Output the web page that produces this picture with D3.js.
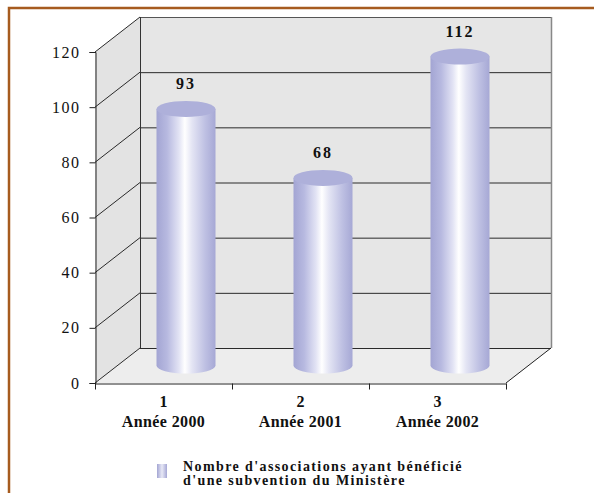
<!DOCTYPE html>
<html>
<head>
<meta charset="utf-8">
<script src="https://cdn.jsdelivr.net/npm/d3@7"></script>
<style>
  html, body { margin: 0; padding: 0; background: #fff; }
  svg { display: block; }
  text { font-family: "Liberation Serif", "DejaVu Serif", serif; fill: #111; }
</style>
</head>
<body>
<svg id="chart" width="594" height="493"></svg>
<script>
// Data
const categories = ["1", "2", "3"];
const yearLabels = ["Année 2000", "Année 2001", "Année 2002"];
const values = [93, 68, 112];
const yTicks = [0, 20, 40, 60, 80, 100, 120];
const legendLines = ["Nombre d'associations ayant bénéficié", "d'une subvention du Ministère"];

const svg = d3.select("#chart");

// Frame
svg.append("path")
  .attr("d", "M9,493 L9,8 L594,8")
  .attr("fill", "none")
  .attr("stroke", "#a65b1f")
  .attr("stroke-width", 2.5);

// Plot geometry (front plane + depth offset)
const plotLeft = 95, plotRight = 506, plotBottom = 383, plotTop = 52;
const dx = 45, dy = -35;

const x = d3.scaleBand().domain(categories).range([plotLeft, plotRight]);
const y = d3.scaleLinear().domain([0, 120]).range([plotBottom, plotTop]);

// Walls and floor
svg.append("polygon")
  .attr("points", [[plotLeft, y(120)], [plotLeft + dx, y(120) + dy], [plotLeft + dx, plotBottom + dy], [plotLeft, plotBottom]].join(" "))
  .attr("fill", "#e3e3e3");
svg.append("rect")
  .attr("x", plotLeft + dx).attr("y", y(120) + dy)
  .attr("width", plotRight - plotLeft).attr("height", plotBottom - y(120))
  .attr("fill", "#e6e6e6");
svg.append("polygon")
  .attr("points", [[plotLeft, plotBottom], [plotLeft + dx, plotBottom + dy], [plotRight + dx, plotBottom + dy], [plotRight, plotBottom]].join(" "))
  .attr("fill", "#ededed");

// Gridlines: back wall horizontals and side wall diagonals
const grid = svg.append("g").attr("stroke", "#2a2a2a").attr("stroke-width", 1).attr("fill", "none");
yTicks.forEach(t => {
  grid.append("line")
    .attr("x1", plotLeft + dx).attr("x2", plotRight + dx)
    .attr("y1", y(t) + dy + 0.5).attr("y2", y(t) + dy + 0.5)
    .attr("stroke", t === 120 ? "#555" : "#2a2a2a");
  grid.append("line")
    .attr("x1", plotLeft).attr("y1", y(t))
    .attr("x2", plotLeft + dx).attr("y2", y(t) + dy);
});
// Back wall edges
svg.append("line")
  .attr("x1", plotLeft + dx + 0.5).attr("x2", plotLeft + dx + 0.5)
  .attr("y1", y(120) + dy).attr("y2", plotBottom + dy)
  .attr("stroke", "#333");
svg.append("line")
  .attr("x1", plotRight + dx + 0.5).attr("x2", plotRight + dx + 0.5)
  .attr("y1", y(120) + dy).attr("y2", plotBottom + dy)
  .attr("stroke", "#888").attr("stroke-width", 1.5);
// Floor right edge
svg.append("line")
  .attr("x1", plotRight).attr("y1", plotBottom)
  .attr("x2", plotRight + dx).attr("y2", plotBottom + dy)
  .attr("stroke", "#222");

// Value axis
const yAxis = d3.axisLeft(y).tickValues(yTicks).tickSize(6).tickPadding(9);
const gy = svg.append("g").attr("transform", `translate(${plotLeft + 0.5},0)`).call(yAxis);
gy.select(".domain").attr("stroke", "#222");
gy.selectAll(".tick line").attr("stroke", "#222");
gy.selectAll(".tick text")
  .attr("font-family", "Liberation Serif, serif")
  .attr("font-size", 16)
  .attr("letter-spacing", 1.5)
  .attr("fill", "#111");

// Category axis
const xAxis = d3.axisBottom(x).tickSize(0).tickPadding(12);
const gx = svg.append("g").attr("transform", `translate(0,${plotBottom + 0.5})`).call(xAxis);
gx.select(".domain").attr("stroke", "#222");
gx.selectAll(".tick text")
  .attr("font-family", "Liberation Serif, serif")
  .attr("font-size", 16)
  .attr("font-weight", "bold")
  .attr("fill", "#111");
// boundary ticks
const bounds = [plotLeft, ...categories.map(c => x(c) + x.bandwidth())];
gx.selectAll("line.bound").data(bounds).enter().append("line")
  .attr("class", "bound")
  .attr("x1", d => d + 0.5).attr("x2", d => d + 0.5)
  .attr("y1", 0).attr("y2", 6)
  .attr("stroke", "#222");
gx.selectAll("text.year").data(yearLabels).enter().append("text")
  .attr("class", "year")
  .attr("x", (d, i) => x(categories[i]) + x.bandwidth() / 2)
  .attr("y", 43)
  .attr("text-anchor", "middle")
  .attr("font-size", 16)
  .attr("font-weight", "bold")
  .attr("letter-spacing", 0.4)
  .text(d => d);

// Cylinder gradient
const defs = svg.append("defs");
const grad = defs.append("linearGradient").attr("id", "cyl").attr("x1", "0%").attr("x2", "100%");
[[0, "#a3a5d3"], [0.18, "#b7b9e0"], [0.38, "#e2e3f4"], [0.48, "#ffffff"], [0.6, "#e4e5f4"], [0.82, "#bfc1e3"], [1, "#a6a8d5"]]
  .forEach(([o, c]) => grad.append("stop").attr("offset", o).attr("stop-color", c));

// Cylinders sit at mid depth
const rx = 29.5, ry = 8;
const bars = svg.append("g");
values.forEach((v, i) => {
  const cx = x(categories[i]) + x.bandwidth() / 2 + dx / 2;
  const yb = y(0) + dy / 2;
  const yt = y(v) + dy / 2;
  bars.append("path")
    .attr("d", `M${cx - rx},${yt} L${cx - rx},${yb} A${rx},${ry} 0 0 0 ${cx + rx},${yb} L${cx + rx},${yt} Z`)
    .attr("fill", "url(#cyl)");
  bars.append("ellipse")
    .attr("cx", cx).attr("cy", yt).attr("rx", rx).attr("ry", ry)
    .attr("fill", "#aeb0da");
  bars.append("text")
    .attr("x", cx).attr("y", yt - ry - 12)
    .attr("text-anchor", "middle")
    .attr("font-size", 16)
    .attr("font-weight", "bold")
    .attr("letter-spacing", 2)
    .text(v);
});

// Legend
const lg = svg.append("g");
const lgrad = defs.append("linearGradient").attr("id", "lg").attr("x1", "0%").attr("x2", "100%");
[[0, "#a3a5d3"], [0.5, "#e8e9f6"], [1, "#a6a8d5"]]
  .forEach(([o, c]) => lgrad.append("stop").attr("offset", o).attr("stop-color", c));
lg.append("rect").attr("x", 157).attr("y", 464).attr("width", 10).attr("height", 14).attr("fill", "url(#lg)");
legendLines.forEach((t, i) => {
  lg.append("text")
    .attr("x", 183).attr("y", 471 + i * 14)
    .attr("font-size", 14)
    .attr("letter-spacing", 1.4)
    .attr("font-weight", 600)
    .text(t);
});
</script>
</body>
</html>
